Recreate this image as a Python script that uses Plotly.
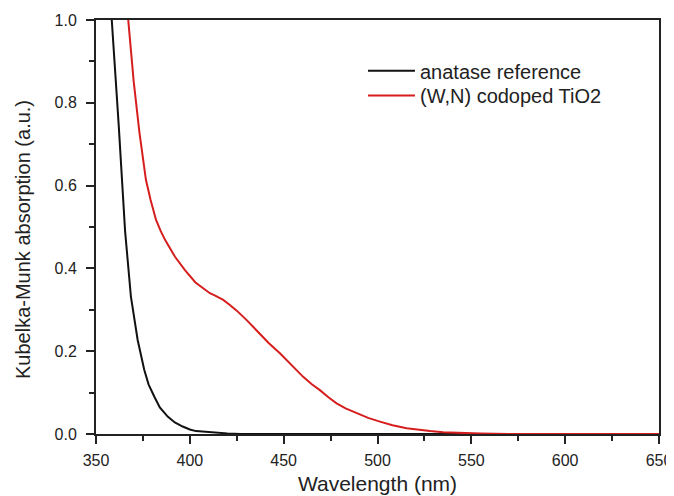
import plotly.graph_objects as go

# Anatase reference (black)
wl_ref = [356.0, 358.4, 362.1, 365.5, 368.6, 372.2, 375.7, 378.0, 381.1, 384.0,
          388.2, 392.0, 396.2, 400.0, 403.3, 408.0, 413.9, 420.0, 427.0, 440.0,
          500.0, 600.0, 650.0]
km_ref = [1.12, 1.00, 0.746, 0.490, 0.332, 0.227, 0.155, 0.120, 0.090, 0.064,
          0.042, 0.028, 0.018, 0.011, 0.007, 0.005, 0.003, 0.0015, 0.0, 0.0,
          0.0, 0.0, 0.0]

# (W,N) codoped TiO2 (red)
wl_wn = [366.0, 367.2, 370.1, 373.1, 376.6, 379.1, 382.0, 384.5, 386.8, 392.1,
         397.4, 403.0, 410.7, 413.5, 417.8, 421.0, 425.0, 430.3, 436.5,
         442.0, 448.0, 454.0, 460.4, 465.0, 469.3, 474.0, 478.2, 483.0, 488.9,
         495.0, 501.3, 508.0, 515.5, 522.0, 528.0, 535.0, 545.0, 555.0, 570.0,
         600.0, 650.0]
km_wn = [1.06, 1.00, 0.851, 0.730, 0.614, 0.565, 0.517, 0.490, 0.469, 0.428,
         0.396, 0.366, 0.340, 0.334, 0.324, 0.313, 0.298, 0.275, 0.245,
         0.220, 0.195, 0.167, 0.138, 0.120, 0.106, 0.088, 0.074, 0.062, 0.050,
         0.039, 0.030, 0.021, 0.014, 0.010, 0.007, 0.004, 0.002, 0.001, 0.0,
         0.0, 0.0]

series_names = ["anatase reference", "(W,N) codoped TiO2"]
x_ticks = [350, 400, 450, 500, 550, 600, 650]
y_ticks = [0.0, 0.2, 0.4, 0.6, 0.8, 1.0]
y_ticklabels = ["0.0", "0.2", "0.4", "0.6", "0.8", "1.0"]

FONT = "Liberation Sans, Arial, sans-serif"
INK = "#222222"

fig = go.Figure()
fig.add_trace(go.Scatter(x=wl_ref, y=km_ref, mode="lines", name=series_names[0],
                         line=dict(color="#111111", width=2), legend="legend"))
fig.add_trace(go.Scatter(x=wl_wn, y=km_wn, mode="lines", name=series_names[1],
                         line=dict(color="#d61e1e", width=2), legend="legend2"))

axis_common = dict(
    showline=True, linecolor=INK, linewidth=2, mirror=True,
    ticks="outside", tickcolor=INK, tickwidth=2, ticklen=8,
    showgrid=False, zeroline=False, layer="below traces", automargin=False,
    ticklabeloverflow="allow",
    tickfont=dict(family=FONT, size=16, color=INK),
)

legend_common = dict(
    xanchor="left", yanchor="top",
    bgcolor="rgba(0,0,0,0)", borderwidth=0,
    font=dict(family=FONT, size=20, color=INK),
    itemwidth=47,
)

# The page body has an 8px margin, so the figure is sized/offset to compensate.
fig.update_layout(
    width=674, height=488,
    margin=dict(l=88, r=23, t=12, b=62, autoexpand=False),
    paper_bgcolor="white", plot_bgcolor="white",
    font=dict(family=FONT, color=INK),
    xaxis=dict(
        range=[350, 650], tickvals=x_ticks, ticklabelstandoff=3,
        title=dict(text="Wavelength (nm)", font=dict(family=FONT, size=21, color=INK), standoff=8),
        minor=dict(ticks="outside", dtick=25, ticklen=5, tickwidth=2, tickcolor=INK, showgrid=False),
        **axis_common,
    ),
    yaxis=dict(
        range=[0, 1.0], tickvals=y_ticks, ticktext=y_ticklabels, ticklabelstandoff=6,
        minor=dict(ticks="outside", dtick=0.1, ticklen=5, tickwidth=2, tickcolor=INK, showgrid=False),
        **axis_common,
    ),
    legend=dict(x=0.4742, y=0.9244, **legend_common),
    legend2=dict(x=0.4742, y=0.8650, **legend_common),
    showlegend=True,
    annotations=[dict(
        text="Kubelka-Munk absorption (a.u.)", textangle=-90,
        xref="paper", yref="paper", x=0, y=0.4686, xanchor="center", yanchor="middle",
        xshift=-73, showarrow=False,
        font=dict(family=FONT, size=20, color=INK),
    )],
)

fig.write_html(
    "out.html",
    post_script="document.documentElement.style.overflow='hidden';document.body.style.overflow='hidden';",
)
